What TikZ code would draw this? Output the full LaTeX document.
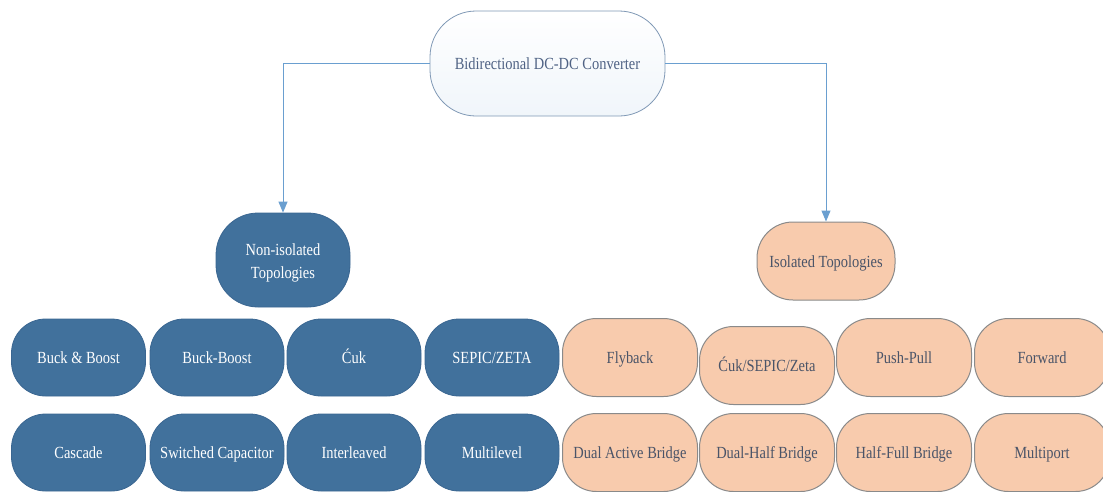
\documentclass[tikz,border=0pt]{standalone}
\usepackage{fontspec}
\setmainfont[FakeStretch=0.85]{Liberation Serif}
\usetikzlibrary{arrows.meta}
\definecolor{dblue}{HTML}{41719C}
\definecolor{dblueline}{HTML}{3A6691}
\definecolor{peach}{HTML}{F8CBAD}
\definecolor{peachline}{HTML}{8A8A8A}
\definecolor{peachtext}{HTML}{4A5468}
\definecolor{toptext}{HTML}{4F6284}
\definecolor{topline}{HTML}{7F98B5}
\definecolor{arrowc}{HTML}{6A9FD0}
\tikzset{
  basebox/.style={rectangle, inner sep=2pt, align=center,
    text height=13pt, text depth=1pt,
    font=\fontsize{17}{23}\selectfont},
  bluebox/.style={basebox, fill=dblue, draw=dblueline, line width=0.8pt,
    text=white, minimum width=134pt, minimum height=77pt, rounded corners=34pt},
  peachbox/.style={basebox, fill=peach, draw=peachline, line width=1pt,
    text=peachtext, minimum width=135pt, minimum height=78pt, rounded corners=34pt},
  topbox/.style={basebox, top color=white, bottom color=white!90!arrowc,
    draw=topline, line width=0.8pt, text=toptext,
    minimum width=235pt, minimum height=105pt, rounded corners=46pt},
  arr/.style={draw=arrowc, line width=1pt,
    -{Triangle[length=11pt,width=9pt,fill=arrowc]}}
}
\begin{document}
\begin{tikzpicture}[x=1pt,y=-1pt]
\useasboundingbox (0,0) rectangle (1103,491);
\node[topbox] (top) at (547.5,63.5) {Bidirectional DC-DC Converter};
\node[bluebox, minimum width=134pt, minimum height=94pt, rounded corners=42pt, text height=37pt] (noniso) at (283,260) {Non-isolated\\Topologies};
\node[peachbox, minimum width=138pt, minimum height=78pt, rounded corners=36pt] (iso) at (826,261) {Isolated Topologies};
% left rows
\node[bluebox] (bb) at (78.5,357.5) {Buck \& Boost};
\node[bluebox] (bkb) at (217,357.5) {Buck-Boost};
\node[bluebox] (cuk) at (354,357.5) {Ćuk};
\node[bluebox] (sepic) at (492,357.5) {SEPIC/ZETA};
\node[bluebox] (casc) at (78.5,452.5) {Cascade};
\node[bluebox] (swc) at (217,452.5) {Switched Capacitor};
\node[bluebox] (intl) at (354,452.5) {Interleaved};
\node[bluebox] (mlv) at (492,452.5) {Multilevel};
% right rows
\node[peachbox] (fly) at (630,357.5) {Flyback};
\node[peachbox] (cse) at (767,365.5) {Ćuk/SEPIC/Zeta};
\node[peachbox] (pp) at (904,357.5) {Push-Pull};
\node[peachbox] (fwd) at (1042,357.5) {Forward};
\node[peachbox] (dab) at (630,452.5) {Dual Active Bridge};
\node[peachbox] (dhb) at (767,452.5) {Dual-Half Bridge};
\node[peachbox] (hfb) at (904,452.5) {Half-Full Bridge};
\node[peachbox] (mp) at (1042,452.5) {Multiport};
% connectors
\draw[arr] (top.west) -| (noniso.north);
\draw[arr] (top.east) -| (iso.north);
\end{tikzpicture}
\end{document}
